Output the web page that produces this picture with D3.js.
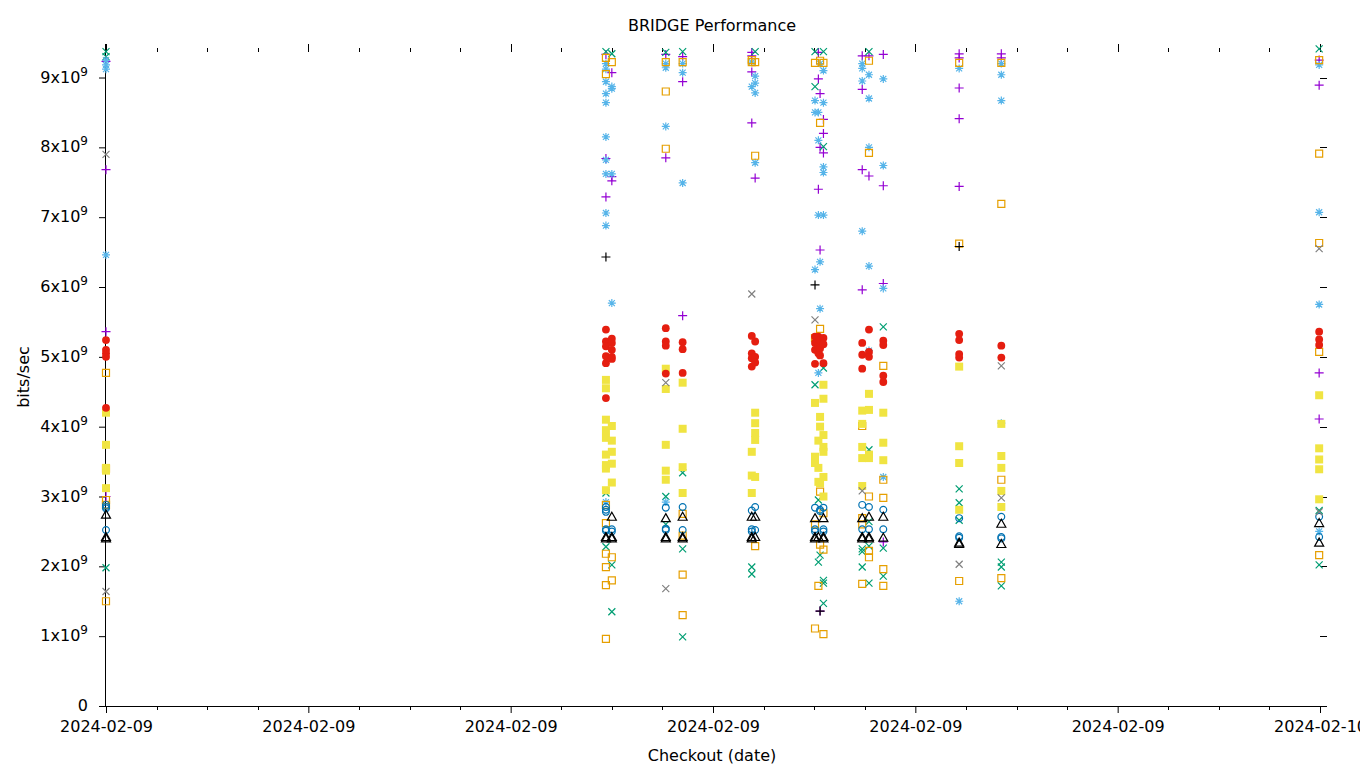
<!DOCTYPE html>
<html><head><meta charset="utf-8">
<script src="https://cdn.jsdelivr.net/npm/d3@7"></script>
<style>
html,body{margin:0;padding:0;background:#fff;}
text{font-family:"DejaVu Sans",sans-serif;fill:#000;}
</style></head>
<body><svg id="c" width="1360" height="768"></svg>
<script>
// ---- data (values in units of 1e9 bits/sec; times on 2024-02-09) ----
const title = "BRIDGE Performance";
const xLabel = "Checkout (date)";
const yLabel = "bits/sec";
const yTickValues = [0,1,2,3,4,5,6,7,8,9];

const purplePlus = [
 ["00:00",9.23],["00:00",7.68],["00:00",5.36],["00:00",3.0],
 ["09:53",9.33],["09:53",7.84],["09:53",7.29],["10:00",9.07],["10:00",7.58],["10:00",7.52],
 ["11:04",9.33],["11:04",7.85],["11:24",9.3],["11:24",8.94],["11:24",5.59],
 ["12:46",9.36],["12:46",9.31],["12:46",9.08],["12:46",8.35],["12:50",7.56],
 ["14:05",9.36],["14:05",8.98],["14:05",7.40],["14:07",8.77],["14:07",8.0],["14:07",6.53],["14:07",1.36],
 ["14:11",8.40],["14:11",8.20],["14:11",7.92],
 ["14:57",9.31],["14:57",8.83],["14:57",7.68],["14:57",5.96],["15:05",9.31],["15:05",7.59],
 ["15:22",9.33],["15:22",7.45],["15:22",6.05],["15:22",2.35],
 ["16:52",9.34],["16:52",9.28],["16:52",8.85],["16:52",8.41],["16:52",7.44],
 ["17:42",9.34],["17:42",9.28],
 ["23:59",9.25],["23:59",8.89],["23:59",4.77],["23:59",4.11]
];
const greenCross = [
 ["00:00",9.37],["00:00",9.30],["00:00",1.98],
 ["09:53",9.37],["09:53",3.05],["09:53",2.28],["10:00",9.34],["10:00",2.02],["10:00",1.35],
 ["11:04",9.36],["11:04",3.0],["11:04",2.6],
 ["11:24",9.37],["11:24",3.34],["11:24",2.25],["11:24",0.99],
 ["12:50",9.37],["12:46",1.99],["12:46",1.89],
 ["14:01",9.37],["14:01",8.87],["14:01",4.6],["14:05",2.95],["14:05",2.06],["14:07",2.16],
 ["14:11",9.37],["14:11",8.01],["14:11",4.84],["14:11",1.8],["14:11",1.76],["14:11",1.47],
 ["14:57",2.25],["14:57",2.21],["14:57",1.99],
 ["15:05",9.37],["15:05",3.67],["15:05",2.64],["15:05",2.29],["15:05",1.76],
 ["15:22",5.43],["15:22",2.26],["15:22",1.86],
 ["16:52",3.11],["16:52",2.91],["16:52",2.66],
 ["17:42",2.06],["17:42",1.99],["17:42",1.72],
 ["23:59",9.41],["23:59",2.80],["23:59",2.02]
];
const blueStar = [
 ["00:00",9.25],["00:00",9.18],["00:00",9.12],["00:00",6.46],
 ["09:53",9.2],["09:53",9.12],["09:53",8.94],["09:53",8.77],["09:53",8.64],["09:53",8.15],["09:53",7.82],
 ["09:53",7.62],["09:53",7.06],["09:53",6.88],["09:53",2.92],
 ["10:00",8.87],["10:00",8.84],["10:00",7.62],["10:00",5.77],
 ["11:04",9.2],["11:04",9.14],["11:04",8.3],["11:04",2.92],
 ["11:24",9.2],["11:24",9.07],["11:24",7.49],
 ["12:46",9.22],["12:46",8.87],["12:50",9.02],["12:50",8.92],["12:50",8.78],["12:50",7.78],
 ["14:01",8.67],["14:01",8.5],["14:01",6.25],["14:05",8.5],["14:05",8.1],["14:05",7.03],["14:05",4.77],
 ["14:07",9.2],["14:07",6.36],["14:07",5.69],
 ["14:11",9.1],["14:11",8.64],["14:11",7.72],["14:11",7.64],["14:11",7.03],
 ["14:57",9.2],["14:57",9.13],["14:57",8.95],["14:57",6.8],
 ["15:05",9.04],["15:05",8.7],["15:05",8.0],["15:05",6.3],["15:05",5.09],
 ["15:22",8.98],["15:22",7.74],["15:22",5.98],["15:22",3.28],
 ["16:52",9.13],["16:52",1.5],
 ["17:42",9.2],["17:42",9.04],["17:42",8.67],["17:42",4.05],
 ["23:59",9.18],["23:59",7.07],["23:59",5.75],["23:59",2.5]
];
const orangeSquare = [
 ["00:00",4.77],["00:00",3.4],["00:00",2.95],["00:00",2.88],["00:00",1.5],
 ["09:53",9.28],["09:53",9.05],["09:53",2.88],["09:53",2.62],["09:53",2.18],["09:53",1.99],["09:53",1.73],["09:53",0.96],
 ["10:00",9.22],["10:00",2.13],["10:00",1.8],
 ["11:04",9.22],["11:04",8.8],["11:04",7.98],
 ["11:24",9.22],["11:24",2.75],["11:24",2.44],["11:24",1.88],["11:24",1.3],
 ["12:46",9.25],["12:46",9.22],["12:50",9.22],["12:50",7.88],["12:50",2.29],
 ["14:01",9.21],["14:01",5.27],["14:01",2.6],["14:01",1.11],
 ["14:07",9.24],["14:07",8.35],["14:07",5.4],["14:07",3.07],["14:07",2.31],
 ["14:11",9.21],["14:11",2.76],["14:11",2.24],["14:05",1.72],["14:11",1.03],
 ["14:57",4.01],["14:57",2.69],["14:57",2.6],["14:57",1.75],
 ["15:05",9.24],["15:05",7.92],["15:05",3.0],["15:05",2.22],["15:05",2.13],
 ["15:22",4.87],["15:22",3.24],["15:22",2.98],["15:22",1.96],["15:22",1.72],
 ["16:52",9.21],["16:52",6.62],["16:52",1.79],
 ["17:42",9.21],["17:42",7.19],["17:42",3.24],["17:42",1.83],
 ["23:59",9.25],["23:59",7.91],["23:59",6.63],["23:59",5.07],["23:59",2.16]
];
const yellowSquare = [
 ["00:00",4.2],["00:00",3.74],["00:00",3.41],["00:00",3.37],["00:00",3.12],
 ["09:53",4.67],["09:53",4.55],["09:53",4.1],["09:53",3.95],["09:53",3.84],["09:53",3.6],["09:53",3.45],["09:53",3.4],["09:53",3.09],
 ["10:00",4.01],["10:00",3.8],["10:00",3.64],["10:00",3.47],["10:00",3.2],
 ["11:04",4.83],["11:04",4.54],["11:04",3.74],["11:04",3.37],["11:04",3.24],
 ["11:24",4.63],["11:24",3.97],["11:24",3.42],["11:24",3.05],
 ["12:46",3.64],["12:46",3.3],["12:46",3.05],["12:50",4.2],["12:50",4.05],["12:50",3.91],["12:50",3.81],["12:50",3.28],
 ["14:01",4.34],["14:01",3.57],["14:01",3.48],["14:05",3.8],["14:05",3.41],["14:05",3.21],
 ["14:07",4.14],["14:07",4.0],["14:07",3.19],
 ["14:11",4.6],["14:11",4.4],["14:11",3.88],["14:11",3.71],["14:11",3.64],["14:11",3.28],["14:11",3.0],
 ["14:57",4.23],["14:57",4.04],["14:57",3.71],["14:57",3.55],["14:57",3.15],
 ["15:05",4.47],["15:05",4.24],["15:05",3.6],["15:05",3.55],
 ["15:22",4.2],["15:22",3.77],["15:22",3.52],
 ["16:52",4.86],["16:52",3.72],["16:52",3.48],["16:52",2.81],
 ["17:42",4.04],["17:42",3.58],["17:42",3.41],["17:42",3.08],["17:42",2.85],
 ["23:59",4.45],["23:59",3.69],["23:59",3.53],["23:59",3.39],["23:59",2.96]
];
const blueCircle = [
 ["00:00",2.88],["00:00",2.85],["00:00",2.83],["00:00",2.52],
 ["09:53",2.85],["09:53",2.81],["09:53",2.78],["09:53",2.53],["09:53",2.51],["10:00",2.53],["10:00",2.5],
 ["11:04",2.84],["11:04",2.54],["11:04",2.52],["11:24",2.85],["11:24",2.52],
 ["12:46",2.8],["12:46",2.53],["12:46",2.5],["12:50",2.85],["12:50",2.52],
 ["14:01",2.84],["14:01",2.53],["14:01",2.5],["14:07",2.81],["14:07",2.79],["14:11",2.84],["14:11",2.53],["14:11",2.5],
 ["14:57",2.88],["14:57",2.53],["15:05",2.85],["15:05",2.53],["15:22",2.81],["15:22",2.53],
 ["16:52",2.69],["16:52",2.43],["16:52",2.41],["17:42",2.71],["17:42",2.42],["17:42",2.4],
 ["23:59",2.71],["23:59",2.42]
];
const redDot = [
 ["00:00",5.24],["00:00",5.1],["00:00",5.05],["00:00",5.0],["00:00",4.27],
 ["09:53",5.39],["09:53",5.22],["09:53",5.15],["09:53",5.01],["09:53",4.91],["09:53",4.41],
 ["10:00",5.26],["10:00",5.2],["10:00",5.1],["10:00",5.0],["10:00",4.97],
 ["11:04",5.41],["11:04",5.22],["11:04",5.16],["11:04",4.76],["11:24",5.21],["11:24",5.11],["11:24",4.77],
 ["12:46",5.3],["12:46",5.05],["12:46",4.98],["12:46",4.86],["12:50",5.22],["12:50",5.0],["12:50",4.92],
 ["14:01",5.29],["14:01",5.2],["14:01",5.1],["14:01",4.9],["14:05",5.29],["14:05",5.15],["14:05",5.05],
 ["14:07",5.24],["14:07",5.12],["14:07",5.02],["14:11",5.27],["14:11",5.18],["14:11",4.91],
 ["14:57",5.2],["14:57",5.03],["14:57",4.83],["15:05",5.39],["15:05",5.07],["15:05",5.0],
 ["15:22",5.23],["15:22",5.17],["15:22",4.73],["15:22",4.64],
 ["16:52",5.33],["16:52",5.24],["16:52",5.04],["16:52",4.99],["17:42",5.16],["17:42",4.99],
 ["23:59",5.36],["23:59",5.25],["23:59",5.17]
];
const blackTriangle = [
 ["00:00",2.74],["00:00",2.42],["00:00",2.40],
 ["09:53",2.42],["09:53",2.40],["10:00",2.71],["10:00",2.42],["10:00",2.40],
 ["11:04",2.69],["11:04",2.42],["11:04",2.40],["11:24",2.71],["11:24",2.42],["11:24",2.40],
 ["12:46",2.71],["12:46",2.42],["12:46",2.40],["12:50",2.71],["12:50",2.42],
 ["14:01",2.69],["14:01",2.42],["14:01",2.40],["14:05",2.42],["14:11",2.69],["14:11",2.42],["14:11",2.40],
 ["14:57",2.69],["14:57",2.42],["14:57",2.40],["15:05",2.71],["15:05",2.42],["15:05",2.40],
 ["15:22",2.71],["15:22",2.41],["16:52",2.34],["16:52",2.32],["17:42",2.61],["17:42",2.32],
 ["23:59",2.62],["23:59",2.34]
];
const blackPlus = [
 ["09:53",6.43],["14:01",6.03],["16:52",6.58],["14:07",1.36]
];
const grayCross = [
 ["00:00",7.9],["00:00",1.64],["11:04",4.63],["11:04",1.68],["12:46",5.9],["14:01",5.53],
 ["14:57",3.08],["16:52",2.03],["17:42",4.87],["17:42",2.98],["23:59",6.55],["23:59",2.78]
];

const series = [
 {data: purplePlus,   shape:"plus",   color:"#9400D3"},
 {data: greenCross,   shape:"cross",  color:"#009E73"},
 {data: blueStar,     shape:"star",   color:"#56B4E9"},
 {data: orangeSquare, shape:"square", color:"#E69F00"},
 {data: yellowSquare, shape:"fsquare",color:"#F0E442"},
 {data: blueCircle,   shape:"circle", color:"#0072B2"},
 {data: redDot,       shape:"fcircle",color:"#E51E10"},
 {data: blackTriangle,shape:"tri",    color:"#000000"},
 {data: blackPlus,    shape:"plus",   color:"#000000"},
 {data: grayCross,    shape:"cross",  color:"#808080"}
];

// ---- chart ----
const svg = d3.select("#c");
const L=106, R=1320, T=44, B=706;
const FS = 16;
const parse = d3.timeParse("%Y-%m-%d %H:%M");
const t0 = parse("2024-02-09 00:00"), t1 = parse("2024-02-10 00:00");
const x = d3.scaleTime().domain([t0,t1]).range([L,R]);
const y = d3.scaleLinear().domain([0,9.48e9]).range([B,T]);

// title & labels
svg.append("text").attr("x",712).attr("y",31).attr("text-anchor","middle").attr("font-size",FS).text(title);
svg.append("text").attr("x",712).attr("y",761).attr("text-anchor","middle").attr("font-size",FS).text(xLabel);
svg.append("text").attr("transform","translate(29,377) rotate(-90)").attr("text-anchor","middle").attr("font-size",FS).text(yLabel);

// bottom axis
const xAxis = d3.axisBottom(x).ticks(d3.timeHour.every(4)).tickFormat(d3.timeFormat("%Y-%m-%d")).tickSize(7).tickSizeOuter(0).tickPadding(8);
const gx = svg.append("g").attr("transform",`translate(0,${B})`).call(xAxis);
gx.selectAll("text").attr("font-size",FS).attr("font-family","DejaVu Sans");
gx.select(".domain").attr("d",`M${L},0.5H1327`);
const minor = d3.timeHour.every(1).range(t0, t1).filter(d=>d.getHours()%4!==0);
svg.append("g").selectAll("line").data(minor).join("line")
  .attr("x1",d=>Math.round(x(d))+0.5).attr("x2",d=>Math.round(x(d))+0.5).attr("y1",B).attr("y2",B+4).attr("stroke","#000");
// top mirror ticks
const majorT = d3.timeHour.every(4).range(t0, d3.timeMinute.offset(t1,1));
svg.append("g").selectAll("line").data(majorT).join("line")
  .attr("x1",d=>Math.round(x(d))+0.5).attr("x2",d=>Math.round(x(d))+0.5).attr("y1",T).attr("y2",T+8).attr("stroke","#000");
svg.append("g").selectAll("line").data(minor).join("line")
  .attr("x1",d=>Math.round(x(d))+0.5).attr("x2",d=>Math.round(x(d))+0.5).attr("y1",T+4).attr("y2",T+8).attr("stroke","#000");

// left axis
const yAxis = d3.axisLeft(y).tickValues(yTickValues.map(v=>v*1e9)).tickSize(7).tickSizeOuter(0).tickFormat("");
const gy = svg.append("g").attr("transform",`translate(${L},0)`).call(yAxis);
gy.select(".domain").attr("d",`M-0.5,${B}V${T}`);
const yl = svg.append("g");
yTickValues.forEach(v=>{
  const t = yl.append("text").attr("x",88).attr("y",y(v*1e9)+5).attr("text-anchor","end").attr("font-size",FS);
  if(v===0){ t.text("0"); }
  else {
    t.append("tspan").text(v+"x10");
    t.append("tspan").attr("dy",-7).attr("font-size",12).text("9");
  }
});
// right mirror ticks
svg.append("g").selectAll("line").data(yTickValues.slice(1)).join("line")
  .attr("x1",R).attr("x2",R+7).attr("y1",d=>Math.round(y(d*1e9))+0.5).attr("y2",d=>Math.round(y(d*1e9))+0.5).attr("stroke","#000");

// markers
function shapePath(s){
  switch(s){
    case "plus": return "M-4.5,0H4.5M0,-4.5V4.5";
    case "cross": return "M-3.5,-3.5L3.5,3.5M-3.5,3.5L3.5,-3.5";
    case "star": return "M-4,0H4M0,-4V4M-3,-3L3,3M-3,3L3,-3";
    case "square": return "M-3.5,-3.5H3.5V3.5H-3.5Z";
    case "fsquare": return "M-4,-4H4V4H-4Z";
    case "circle": return d3.symbol(d3.symbolCircle, 36)();
    case "fcircle": return d3.symbol(d3.symbolCircle, 48)();
    case "tri": return "M0,-4.5L4.5,3.5H-4.5Z";
  }
}
const filled = {fsquare:true, fcircle:true};
series.forEach(s=>{
  svg.append("g").selectAll("path").data(s.data).join("path")
    .attr("transform",d=>`translate(${x(parse("2024-02-09 "+d[0]))},${y(d[1]*1e9)})`)
    .attr("d",shapePath(s.shape))
    .attr("fill", filled[s.shape]? s.color : "none")
    .attr("stroke", filled[s.shape]? "none" : s.color)
    .attr("stroke-width",1.2);
});
</script></body></html>
